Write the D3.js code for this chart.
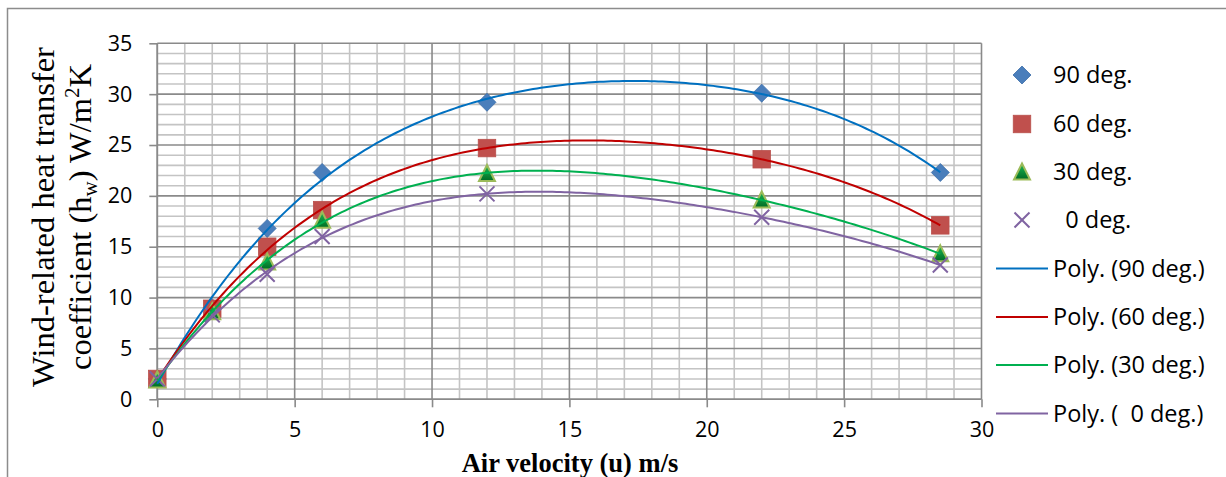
<!DOCTYPE html>
<html><head><meta charset="utf-8">
<script src="https://cdn.jsdelivr.net/npm/d3@7"></script>
<style>body{margin:0;background:#fff} svg{display:block}</style>
</head><body><svg id="c" width="1226" height="477"></svg>
<script>
// ---- data ----
const velocity = [0, 2, 4, 6, 12, 22, 28.5];
const deg90 = [2.0, 9.0, 16.8, 22.3, 29.2, 30.1, 22.3];
const deg60 = [2.0, 8.9, 15.0, 18.6, 24.7, 23.6, 17.1];
const deg30 = [1.9, 8.6, 13.5, 17.6, 22.2, 19.6, 14.3];
const deg0  = [2.0, 8.3, 12.3, 16.0, 20.2, 17.9, 13.2];
const seriesNames = ["90 deg.", "60 deg.", "30 deg.", "  0 deg."];
const trendNames = ["Poly. (90 deg.)", "Poly. (60 deg.)", "Poly. (30 deg.)", "Poly. (  0 deg.)"];
const xTicks = [0, 5, 10, 15, 20, 25, 30];
const yTicks = [0, 5, 10, 15, 20, 25, 30, 35];
const trendOrder = 4;

const seriesValues = [deg90, deg60, deg30, deg0];
const markerKinds = ["diamond", "square", "triangle", "cross"];
const lineColors = ["#0070C0", "#C00000", "#00B050", "#8064A2"];

const svg = d3.select("#c");
const W = 1226, H = 477;
const plot = {left: 157.3, right: 981.5, top: 43.3, bottom: 399.3};
const x = d3.scaleLinear().domain([0, 30]).range([plot.left, plot.right]);
const y = d3.scaleLinear().domain([0, 35]).range([plot.bottom, plot.top]);

const defs = svg.append("defs");
const g1 = defs.append("linearGradient").attr("id", "triG").attr("x1", 0).attr("y1", 0).attr("x2", 0).attr("y2", 1);
g1.append("stop").attr("offset", "0%").attr("stop-color", "#1db954");
g1.append("stop").attr("offset", "100%").attr("stop-color", "#006b24");

// outer frame
svg.append("path").attr("d", `M7.5,${H} L7.5,8.5 L${W},8.5`).attr("fill", "none")
  .attr("stroke", "#8c8c8c").attr("stroke-width", 1.5);

// gridlines
const minorX = d3.range(0, 31, 1).filter(v => v % 5 !== 0);
const minorY = d3.range(0, 36, 1).filter(v => v % 5 !== 0);
const grid = svg.append("g");
grid.selectAll(".mx").data(minorX).enter().append("line")
  .attr("x1", d => x(d)).attr("x2", d => x(d)).attr("y1", plot.top).attr("y2", plot.bottom)
  .attr("stroke", "#c4c4c4").attr("stroke-width", 1.6);
grid.selectAll(".my").data(minorY).enter().append("line")
  .attr("y1", d => y(d)).attr("y2", d => y(d)).attr("x1", plot.left).attr("x2", plot.right)
  .attr("stroke", "#c4c4c4").attr("stroke-width", 1.6);
grid.selectAll(".Mx").data(xTicks).enter().append("line")
  .attr("x1", d => x(d)).attr("x2", d => x(d)).attr("y1", plot.top).attr("y2", plot.bottom)
  .attr("stroke", "#8a8a8a").attr("stroke-width", 1.6);
grid.selectAll(".My").data(yTicks).enter().append("line")
  .attr("y1", d => y(d)).attr("y2", d => y(d)).attr("x1", plot.left).attr("x2", plot.right)
  .attr("stroke", "#8a8a8a").attr("stroke-width", 1.6);

// axes
const xAxis = d3.axisBottom(x).tickValues(xTicks).tickSize(8).tickPadding(14).tickFormat(d3.format("d"));
const yAxis = d3.axisLeft(y).tickValues(yTicks).tickSize(8).tickPadding(17).tickFormat(d3.format("d"));
const gx = svg.append("g").attr("transform", `translate(0,${plot.bottom})`).call(xAxis);
const gy = svg.append("g").attr("transform", `translate(${plot.left},0)`).call(yAxis);
[gx, gy].forEach(g => {
  g.select(".domain").attr("stroke", "#8a8a8a").attr("stroke-width", 1.6);
  g.selectAll(".tick line").attr("stroke", "#8a8a8a").attr("stroke-width", 1.6);
  g.selectAll(".tick text").attr("font-family", "'Open Sans', sans-serif").attr("font-size", 21.5).attr("fill", "#000");
});
gx.select(".domain").attr("d", `M${plot.left},0H${plot.right}`);
gy.select(".domain").attr("d", `M0,${plot.bottom}V${plot.top}`);

// least squares polynomial fit (trendline)
function polyfit(xs, ys, order) {
  const n = order + 1;
  const A = Array.from({length: n}, () => new Array(n + 1).fill(0));
  for (let i = 0; i < xs.length; i++) {
    for (let r = 0; r < n; r++) {
      for (let c = 0; c < n; c++) A[r][c] += Math.pow(xs[i], r + c);
      A[r][n] += ys[i] * Math.pow(xs[i], r);
    }
  }
  for (let p = 0; p < n; p++) {
    let m = p;
    for (let r = p + 1; r < n; r++) if (Math.abs(A[r][p]) > Math.abs(A[m][p])) m = r;
    [A[p], A[m]] = [A[m], A[p]];
    for (let r = 0; r < n; r++) {
      if (r === p) continue;
      const f = A[r][p] / A[p][p];
      for (let c = p; c <= n; c++) A[r][c] -= f * A[p][c];
    }
  }
  return A.map((row, i) => row[n] / row[i]);
}
const evalPoly = (coef, v) => coef.reduce((s, c, i) => s + c * Math.pow(v, i), 0);

const lineGen = d3.line().x(d => x(d[0])).y(d => y(d[1]));
const xMin = d3.min(velocity), xMax = d3.max(velocity);
const samples = d3.range(0, 201).map(i => xMin + (xMax - xMin) * i / 200);

function drawMarker(g, kind, cx, cy) {
  if (kind === "diamond") {
    const r = 9;
    g.append("path").attr("d", `M${cx},${cy - r}L${cx + r},${cy}L${cx},${cy + r}L${cx - r},${cy}Z`)
      .attr("fill", "#4A7EBB").attr("stroke", "#3C6DA8").attr("stroke-width", 0.8);
  } else if (kind === "square") {
    const s = 17.5;
    g.append("rect").attr("x", cx - s / 2).attr("y", cy - s / 2).attr("width", s).attr("height", s)
      .attr("fill", "#C0504D").attr("stroke", "#B9504C").attr("stroke-width", 0.8);
  } else if (kind === "triangle") {
    const w = 8, h = 8.5;
    g.append("path").attr("d", `M${cx},${cy - h}L${cx + w},${cy + h - 1}L${cx - w},${cy + h - 1}Z`)
      .attr("fill", "url(#triG)").attr("stroke", "#9BBB59").attr("stroke-width", 2);
  } else {
    const r = 7.5;
    g.append("path").attr("d", `M${cx - r},${cy - r}L${cx + r},${cy + r}M${cx - r},${cy + r}L${cx + r},${cy - r}`)
      .attr("stroke", "#8064A2").attr("stroke-width", 2).attr("fill", "none");
  }
}

const marks = svg.append("g");
seriesValues.forEach((vals, si) => {
  const gs = marks.append("g");
  velocity.forEach((v, i) => drawMarker(gs, markerKinds[si], x(v), y(vals[i])));
});
const lines = svg.append("g");
seriesValues.forEach((vals, si) => {
  const coef = polyfit(velocity, vals, trendOrder);
  const pts = samples.map(v => [v, evalPoly(coef, v)]);
  lines.append("path").attr("d", lineGen(pts)).attr("fill", "none")
    .attr("stroke", lineColors[si]).attr("stroke-width", 2);
});

// legend
const leg = svg.append("g").attr("font-family", "'Open Sans', sans-serif").attr("font-size", 23.5);
const markerRowsY = [75, 124, 172, 220];
const lineRowsY = [268.5, 317, 365, 413.5];
seriesNames.forEach((nm, i) => {
  drawMarker(leg, markerKinds[i], 1022, markerRowsY[i]);
  leg.append("text").attr("x", 1053).attr("y", markerRowsY[i]).attr("dy", "0.35em")
    .attr("xml:space", "preserve").style("white-space", "pre").text(nm);
});
trendNames.forEach((nm, i) => {
  leg.append("line").attr("x1", 996).attr("x2", 1048).attr("y1", lineRowsY[i]).attr("y2", lineRowsY[i])
    .attr("stroke", lineColors[i]).attr("stroke-width", 2);
  leg.append("text").attr("x", 1053).attr("y", lineRowsY[i]).attr("dy", "0.35em")
    .attr("xml:space", "preserve").style("white-space", "pre").text(nm);
});

// axis titles
svg.append("text").attr("x", 570).attr("y", 472)
  .attr("text-anchor", "middle").attr("font-family", "'Liberation Serif', 'Times New Roman', serif")
  .attr("font-weight", "bold").attr("font-size", 26.5).text("Air velocity (u) m/s");

const yt = svg.append("g").attr("font-family", "'Liberation Serif', 'Times New Roman', serif").attr("font-size", 32.5);
const cy = 217;
yt.append("text").attr("transform", `translate(53.5,${cy}) rotate(-90)`).attr("text-anchor", "middle")
  .text("Wind-related heat transfer");
const t2 = yt.append("text").attr("transform", `translate(90.5,${cy}) rotate(-90)`).attr("text-anchor", "middle");
t2.append("tspan").text("coefficient (h");
t2.append("tspan").attr("font-size", 21).attr("dy", 6).text("w");
t2.append("tspan").attr("dy", -6).text(") W/m");
t2.append("tspan").attr("font-size", 21).attr("dy", -12).text("2");
t2.append("tspan").attr("dy", 12).text("K");
</script>
</body></html>
